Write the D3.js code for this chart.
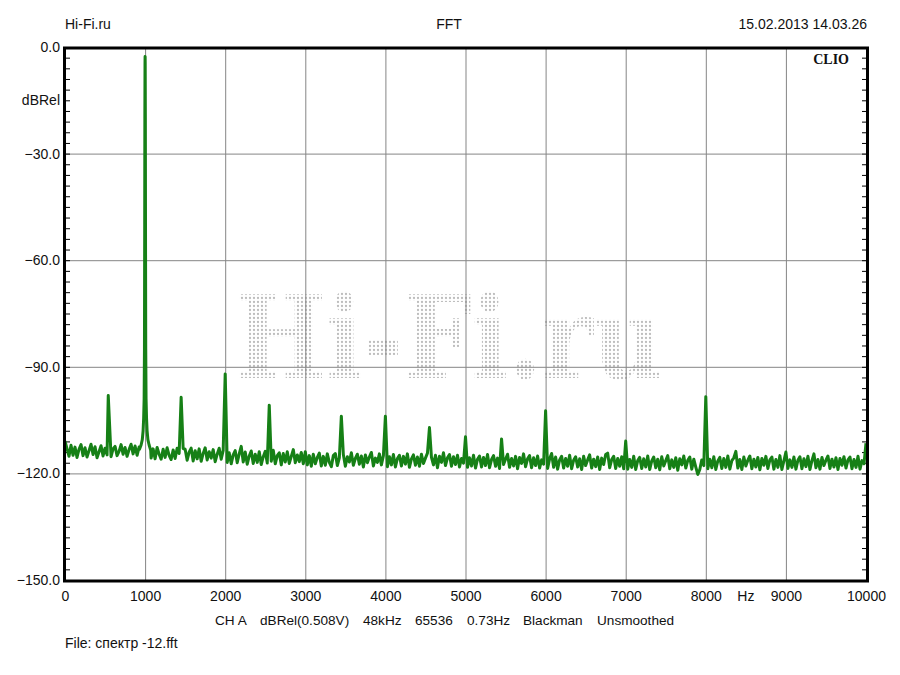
<!DOCTYPE html>
<html>
<head>
<meta charset="utf-8">
<script src="https://cdn.jsdelivr.net/npm/d3@7"></script>
<style>
  html, body { margin: 0; padding: 0; background: #fff; }
  svg { display: block; }
  text { font-family: "Liberation Sans", Arial, sans-serif; font-size: 14px; fill: #111; }
</style>
</head>
<body>
<svg id="chart" width="900" height="675"></svg>
<script>
// ---------------- DATA ----------------
const xTickValues = [0, 1000, 2000, 3000, 4000, 5000, 6000, 7000, 8000, 9000, 10000];
const yTickValues = [-150, -120, -90, -60, -30, 0];
const headerLeft = "Hi-Fi.ru";
const headerCenter = "FFT";
const headerRight = "15.02.2013 14.03.26";
const infoItems = ["CH A", "dBRel(0.508V)", "48kHz", "65536", "0.73Hz", "Blackman", "Unsmoothed"];
const fileLabel = "File: спектр -12.fft";
const watermark = "Hi-Fi.ru";

// noise floor, read every 25 Hz from 0 to 10000 Hz (dBRel)
const noiseStartHz = 0;
const noiseStepHz = 25;
const noiseDb = [
  -110.9,-113.0,-115.2,-112.1,-114.9,-112.6,-115.5,-113.2,-111.9,-115.0,
  -112.8,-115.4,-113.6,-111.8,-114.7,-112.5,-115.6,-113.9,-112.2,-115.1,
  -112.9,-114.8,-111.7,-115.3,-113.1,-112.4,-115.0,-113.8,-111.9,-114.6,
  -112.7,-115.2,-113.3,-111.8,-114.5,-112.3,-114.9,-112.6,-111.5,-112.0,
  -112.0,-112.4,-113.0,-115.7,-113.1,-115.9,-112.7,-114.6,-116.0,-113.2,
  -115.5,-112.8,-114.9,-116.1,-113.4,-115.8,-112.9,-114.4,-116.2,-113.0,
  -113.2,-116.3,-114.0,-112.9,-116.5,-113.6,-115.9,-113.1,-116.6,-114.4,
  -112.8,-116.2,-113.9,-115.7,-113.3,-116.7,-114.6,-112.9,-116.0,-113.5,
  -113.8,-116.9,-114.2,-117.3,-114.8,-113.6,-117.0,-114.5,-112.4,-116.8,
  -114.0,-117.4,-115.1,-113.7,-117.2,-114.6,-116.9,-113.9,-117.5,-115.3,
  -113.8,-117.1,-114.7,-116.6,-113.5,-117.3,-115.0,-114.2,-117.6,-114.4,
  -116.8,-113.9,-117.2,-115.2,-113.3,-117.0,-114.8,-116.7,-114.1,-117.3,
  -113.9,-117.6,-115.0,-118.0,-114.6,-117.3,-115.5,-114.3,-117.9,-115.2,
  -117.7,-114.5,-116.9,-118.1,-115.0,-114.4,-117.8,-115.6,-117.2,-114.7,
  -118.0,-115.3,-116.8,-114.2,-117.7,-115.8,-114.6,-117.4,-115.1,-118.2,
  -114.8,-117.0,-115.4,-114.1,-117.9,-115.7,-116.9,-114.5,-117.6,-115.0,
  -114.6,-118.1,-115.3,-117.6,-114.7,-118.2,-115.8,-114.9,-117.9,-115.2,
  -117.4,-114.5,-118.3,-115.9,-114.8,-117.7,-115.4,-118.0,-114.6,-117.2,
  -115.7,-114.3,-118.1,-115.5,-117.6,-114.9,-118.4,-115.2,-116.9,-114.2,
  -117.8,-115.6,-114.7,-118.0,-115.3,-117.5,-114.9,-118.2,-115.8,-117.1,
  -114.8,-118.3,-115.6,-117.9,-114.9,-118.5,-116.0,-115.1,-118.2,-115.5,
  -117.8,-114.7,-118.4,-116.1,-115.0,-118.0,-115.7,-118.6,-114.9,-117.5,
  -116.0,-114.6,-118.3,-115.8,-117.9,-115.2,-118.7,-115.5,-117.2,-114.5,
  -118.1,-115.9,-115.0,-118.4,-115.6,-117.8,-115.1,-118.5,-116.2,-117.4,
  -115.1,-118.6,-115.9,-114.4,-118.3,-115.4,-118.8,-116.2,-115.2,-118.5,
  -115.8,-118.0,-114.9,-118.7,-116.3,-115.3,-118.2,-115.9,-118.9,-115.2,
  -117.8,-116.2,-114.8,-118.5,-116.0,-118.1,-115.4,-118.9,-115.7,-117.5,
  -114.7,-114.3,-118.4,-116.1,-115.2,-118.6,-115.8,-118.0,-115.3,-118.7,
  -115.3,-118.8,-116.1,-118.3,-115.2,-118.9,-116.4,-115.5,-118.6,-115.9,
  -118.2,-115.1,-118.9,-116.5,-115.4,-118.4,-116.0,-119.0,-115.3,-117.9,
  -116.4,-115.0,-118.7,-116.2,-118.3,-115.6,-119.1,-115.9,-117.6,-115.1,
  -118.5,-116.3,-115.4,-118.8,-116.0,-118.2,-120.3,-118.9,-116.2,-117.8,
  -115.2,-118.7,-116.0,-118.4,-115.3,-118.9,-116.5,-115.5,-118.6,-115.8,
  -118.3,-115.1,-118.8,-116.4,-115.6,-113.8,-118.5,-116.1,-118.9,-115.4,
  -117.9,-116.3,-115.1,-118.7,-116.0,-118.2,-115.5,-119.0,-115.8,-117.7,
  -115.2,-118.6,-116.2,-115.4,-118.8,-116.1,-118.3,-115.0,-118.9,-116.5,
  -114.0,-118.6,-116.2,-118.3,-115.4,-118.8,-116.3,-115.3,-118.7,-115.9,
  -118.1,-115.2,-118.9,-116.4,-114.5,-118.4,-116.1,-118.8,-115.5,-117.8,
  -116.3,-115.1,-118.6,-116.0,-118.2,-115.6,-118.9,-115.8,-117.7,-115.3,
  -118.5,-116.2,-115.4,-118.7,-116.1,-118.3,-115.2,-118.8,-116.4,-117.3,
  -111.5
];

// fundamental (1 kHz) with its window skirt
const fundHz = [930, 950, 965, 975, 982, 988, 992, 995, 997, 999, 1000, 1001, 1003, 1005, 1008, 1012, 1018, 1025, 1035, 1050, 1070];
const fundDb = [-113.2, -112.0, -110.5, -108.0, -104.5, -99.0, -85.0, -50.0, -20.0, -4.5, -2.7, -4.5, -20.0, -50.0, -85.0, -99.0, -104.5, -108.0, -110.5, -112.0, -113.5];

// harmonic / spurious peaks
const peakHz = [540, 1450, 2000, 2550, 3450, 4000, 4550, 5000, 5450, 6000, 7000, 8000];
const peakDb = [-98.1, -98.6, -92.0, -100.8, -103.9, -103.9, -107.1, -109.7, -110.3, -102.4, -110.9, -98.4];

// ---------------- CHART ----------------
const svg = d3.select("#chart");
const x = d3.scaleLinear().domain([0, 10000]).range([65, 866]);
const y = d3.scaleLinear().domain([-150, 0]).range([580, 47]);

// series assembly
let pts = noiseDb.map((v, i) => ({ f: noiseStartHz + i * noiseStepHz, db: v }));
pts = pts.filter(p => !(p.f > fundHz[0] - 5 && p.f < fundHz[fundHz.length - 1] + 5));
pts = pts.filter(p => !peakHz.some(f => Math.abs(p.f - f) < 13));
fundHz.forEach((f, i) => pts.push({ f, db: fundDb[i] }));
peakHz.forEach((f, i) => pts.push({ f, db: peakDb[i] }));
pts.sort((a, b) => a.f - b.f);

// watermark (dot-matrix text)
const defs = svg.append("defs");
const pat = defs.append("pattern").attr("id", "dots")
  .attr("patternUnits", "userSpaceOnUse").attr("width", 4).attr("height", 4);
pat.append("circle").attr("cx", 2).attr("cy", 2).attr("r", 1.15).attr("fill", "#bdbdbd");
defs.append("clipPath").attr("id", "plotclip").append("rect")
  .attr("x", x(0)).attr("y", y(0)).attr("width", x(10000) - x(0)).attr("height", y(-150) - y(0));

const wmFont = '"DejaVu Serif", "Liberation Serif", serif';
let capRatio = 0.73;
try {
  const ctx = document.createElement("canvas").getContext("2d");
  ctx.font = 'bold 100px ' + wmFont;
  const m = ctx.measureText("H");
  if (m.actualBoundingBoxAscent) capRatio = m.actualBoundingBoxAscent / 100;
} catch (e) {}
const wmTop = 295, wmBottom = 378, wmLeft = 235, wmRight = 663;
svg.append("text")
  .attr("x", wmLeft).attr("y", wmBottom)
  .attr("textLength", wmRight - wmLeft).attr("lengthAdjust", "spacingAndGlyphs")
  .style("font-family", wmFont).style("font-weight", "bold")
  .style("font-size", ((wmBottom - wmTop) / capRatio) + "px")
  .style("fill", "url(#dots)")
  .text(watermark);

// grid
const g = svg.append("g");
g.selectAll("line.vg").data(xTickValues.slice(1, -1)).join("line")
  .attr("x1", d => x(d) + 0.5).attr("x2", d => x(d) + 0.5)
  .attr("y1", y(0)).attr("y2", y(-150))
  .attr("stroke", "#858585").attr("stroke-width", 1);
g.selectAll("line.hg").data(yTickValues.slice(1, -1)).join("line")
  .attr("y1", d => y(d) + 0.5).attr("y2", d => y(d) + 0.5)
  .attr("x1", x(0)).attr("x2", x(10000))
  .attr("stroke", "#858585").attr("stroke-width", 1);

// minor ticks (every 3 dB) on both sides, inside
const minor = d3.range(-147, 0, 3);
svg.append("g").attr("transform", `translate(${x(0) + 1},0)`)
  .call(d3.axisRight(y).tickValues(minor).tickSize(4).tickFormat(""))
  .call(s => s.select(".domain").remove())
  .call(s => s.selectAll("line").attr("stroke", "#000"));
svg.append("g").attr("transform", `translate(${x(10000)},0)`)
  .call(d3.axisLeft(y).tickValues(minor).tickSize(4).tickFormat(""))
  .call(s => s.select(".domain").remove())
  .call(s => s.selectAll("line").attr("stroke", "#000"));

// trace
svg.append("path").datum(pts)
  .attr("clip-path", "url(#plotclip)")
  .attr("fill", "none").attr("stroke", "#168016").attr("stroke-width", 3.0)
  .attr("stroke-linejoin", "round")
  .attr("d", d3.line().x(d => x(d.f)).y(d => y(d.db)));

// frame
svg.append("rect")
  .attr("x", x(0) - 0.5).attr("y", y(0) + 1)
  .attr("width", x(10000) - x(0) + 2).attr("height", y(-150) - y(0))
  .attr("fill", "none").attr("stroke", "#000").attr("stroke-width", 3);

// x axis labels
const xAxis = svg.append("g").attr("transform", `translate(0,${y(-150) + 8})`)
  .call(d3.axisBottom(x).tickValues(xTickValues).tickSize(0).tickFormat(d3.format("d")));
xAxis.select(".domain").remove();
xAxis.selectAll("text").style("font-family", '"Liberation Sans", Arial, sans-serif')
  .style("font-size", "14px").attr("fill", "#111");
svg.append("text").attr("x", x(8500)).attr("y", 601).attr("text-anchor", "middle").text("Hz");

// y axis labels
const yAxis = svg.append("g").attr("transform", `translate(${x(0) - 1},0)`)
  .call(d3.axisLeft(y).tickValues(yTickValues).tickSize(0).tickPadding(4).tickFormat(d3.format(".1f")));
yAxis.select(".domain").remove();
yAxis.selectAll("text").style("font-family", '"Liberation Sans", Arial, sans-serif')
  .style("font-size", "14px").attr("fill", "#111");
svg.append("text").attr("x", 60).attr("y", y(-15) + 5).attr("text-anchor", "end").text("dBRel");

// header
svg.append("text").attr("x", 65).attr("y", 29).text(headerLeft);
svg.append("text").attr("x", 449).attr("y", 29).attr("text-anchor", "middle").text(headerCenter);
svg.append("text").attr("x", 867).attr("y", 29).attr("text-anchor", "end").text(headerRight);

// CLIO logo
svg.append("text").attr("x", 849).attr("y", 64).attr("text-anchor", "end")
  .style("font-family", '"Liberation Serif", "Times New Roman", serif')
  .style("font-weight", "bold").style("font-size", "14px").text("CLIO");

// info line
const infoX = [215, 260, 363, 415, 467, 523, 597];
svg.selectAll("text.info").data(infoItems).join("text")
  .attr("class", "info").attr("x", (d, i) => infoX[i]).attr("y", 625)
  .style("font-size", "13.6px").text(d => d);

svg.append("text").attr("x", 65).attr("y", 648).text(fileLabel);
</script>
</body>
</html>
